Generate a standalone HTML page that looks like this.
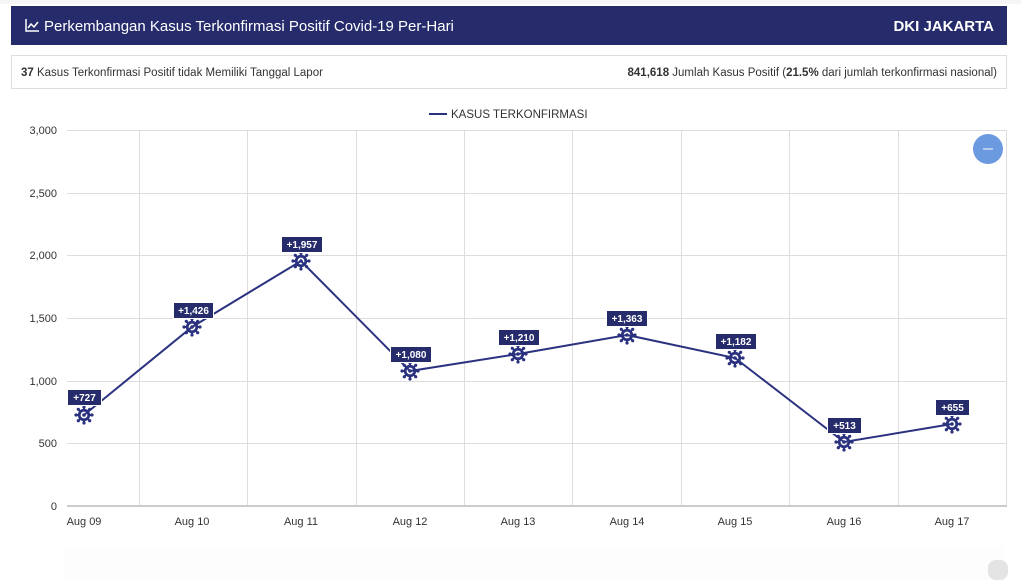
<!DOCTYPE html>
<html><head><meta charset="utf-8"><style>
html,body{margin:0;padding:0;background:#fff;width:1021px;height:580px;overflow:hidden;font-family:"Liberation Sans",sans-serif}
</style></head><body>
<svg width="1021" height="580" xmlns="http://www.w3.org/2000/svg" font-family="Liberation Sans, sans-serif">
<defs>
<g id="v">
<circle r="4.8" fill="none" stroke="#2b3280" stroke-width="2.8"/>
<circle r="1.8" fill="#2b3280"/>
<g stroke="#2b3280" stroke-width="2">
<line x1="0" y1="-4.5" x2="0" y2="-7.5"/><line x1="0" y1="4.5" x2="0" y2="7.5"/>
<line x1="-4.5" y1="0" x2="-7.5" y2="0"/><line x1="4.5" y1="0" x2="7.5" y2="0"/>
<line x1="3.2" y1="3.2" x2="5.3" y2="5.3"/><line x1="-3.2" y1="3.2" x2="-5.3" y2="5.3"/>
<line x1="3.2" y1="-3.2" x2="5.3" y2="-5.3"/><line x1="-3.2" y1="-3.2" x2="-5.3" y2="-5.3"/>
</g>
<g fill="#2b3280"><circle cx="0" cy="-8" r="1.6"/><circle cx="0" cy="8" r="1.6"/><circle cx="-8" cy="0" r="1.6"/><circle cx="8" cy="0" r="1.6"/>
<circle cx="5.7" cy="5.7" r="1.6"/><circle cx="-5.7" cy="5.7" r="1.6"/><circle cx="5.7" cy="-5.7" r="1.6"/><circle cx="-5.7" cy="-5.7" r="1.6"/></g>
</g>
</defs>
<rect x="0" y="0" width="1021" height="4" fill="#f6f6f6"/>
<rect x="11" y="6" width="996" height="39" fill="#252b6b"/>
<g fill="#fff" stroke="#fff" stroke-width="1.5"><polyline points="26,19 26,31 39,31" fill="none"/><polyline points="28,28 31,24 34,27 38,22" fill="none"/></g>
<text x="44" y="31" fill="#fff" font-size="15">Perkembangan Kasus Terkonfirmasi Positif Covid-19 Per-Hari</text>
<text x="994" y="31" fill="#fff" font-size="15" font-weight="bold" text-anchor="end">DKI JAKARTA</text>
<rect x="11.5" y="55.5" width="995" height="33" fill="#fff" stroke="#ddd"/>
<text x="21" y="76" font-size="11.5" fill="#333"><tspan font-weight="bold">37</tspan> Kasus Terkonfirmasi Positif tidak Memiliki Tanggal Lapor</text>
<text x="997" y="76" font-size="11.5" fill="#333" text-anchor="end"><tspan font-weight="bold">841,618</tspan> Jumlah Kasus Positif (<tspan font-weight="bold">21.5%</tspan> dari jumlah terkonfirmasi nasional)</text>
<line x1="429" y1="114" x2="447" y2="114" stroke="#2b3280" stroke-width="2"/>
<text x="451" y="118" font-size="11.5" fill="#333">KASUS TERKONFIRMASI</text>
<g stroke="#ddd" stroke-width="1">
<line x1="67" y1="130.5" x2="1007" y2="130.5"/><line x1="67" y1="193.5" x2="1007" y2="193.5"/><line x1="67" y1="255.5" x2="1007" y2="255.5"/><line x1="67" y1="318.5" x2="1007" y2="318.5"/><line x1="67" y1="381.5" x2="1007" y2="381.5"/><line x1="67" y1="443.5" x2="1007" y2="443.5"/>
<line x1="139.5" y1="130" x2="139.5" y2="506"/><line x1="247.5" y1="130" x2="247.5" y2="506"/><line x1="356.5" y1="130" x2="356.5" y2="506"/><line x1="464.5" y1="130" x2="464.5" y2="506"/><line x1="572.5" y1="130" x2="572.5" y2="506"/><line x1="681.5" y1="130" x2="681.5" y2="506"/><line x1="789.5" y1="130" x2="789.5" y2="506"/><line x1="898.5" y1="130" x2="898.5" y2="506"/><line x1="1006.5" y1="130" x2="1006.5" y2="506"/>
</g>
<line x1="67" y1="506" x2="1007" y2="506" stroke="#ccc" stroke-width="2"/>
<g font-size="11" fill="#333" text-anchor="end">
<text x="57" y="134">3,000</text><text x="57" y="197">2,500</text><text x="57" y="259">2,000</text><text x="57" y="322">1,500</text><text x="57" y="385">1,000</text><text x="57" y="447">500</text><text x="57" y="510">0</text>
</g>
<g font-size="11" fill="#333" text-anchor="middle">
<text x="84" y="525">Aug 09</text><text x="192" y="525">Aug 10</text><text x="301" y="525">Aug 11</text><text x="410" y="525">Aug 12</text><text x="518" y="525">Aug 13</text><text x="627" y="525">Aug 14</text><text x="735" y="525">Aug 15</text><text x="844" y="525">Aug 16</text><text x="952" y="525">Aug 17</text>
</g>
<polyline fill="none" stroke="#2b3280" stroke-width="2" points="84,415 192,327 301,261 410,371 518,354 627,335 735,358 844,442 952,424"/>
<g>
<use href="#v" x="84" y="415"/><use href="#v" x="192" y="327"/><use href="#v" x="301" y="261"/><use href="#v" x="410" y="371"/><use href="#v" x="518" y="354"/><use href="#v" x="627" y="335"/><use href="#v" x="735" y="358"/><use href="#v" x="844" y="442"/><use href="#v" x="952" y="424"/>
</g>
<g fill="#252b6b" stroke="#fff" stroke-width="1">
<rect x="67.5" y="389.5" width="34" height="16"/>
<rect x="173.5" y="302.5" width="40" height="16"/>
<rect x="281.5" y="236.5" width="41" height="16"/>
<rect x="390.5" y="346.5" width="41" height="16"/>
<rect x="498.5" y="329.5" width="41" height="16"/>
<rect x="606.5" y="310.5" width="41" height="16"/>
<rect x="715.5" y="333.5" width="41" height="16"/>
<rect x="827.5" y="417.5" width="34" height="16"/>
<rect x="935.5" y="399.5" width="34" height="16"/>
</g>
<g font-size="10" font-weight="bold" fill="#fff" text-anchor="middle">
<text x="84.5" y="401">+727</text><text x="193.5" y="314">+1,426</text><text x="302" y="248">+1,957</text><text x="411" y="358">+1,080</text><text x="519" y="341">+1,210</text><text x="627" y="322">+1,363</text><text x="736" y="345">+1,182</text><text x="844.5" y="429">+513</text><text x="952.5" y="411">+655</text>
</g>
<circle cx="988" cy="149" r="15" fill="#6b9ae0"/>
<line x1="983" y1="149" x2="993" y2="149" stroke="#fff" stroke-width="1"/>
<rect x="65" y="546" width="940" height="34" fill="#fdfdfd"/>
<rect x="988" y="560" width="20" height="20" rx="8" fill="#e4e4e4"/>
</svg>
</body></html>
